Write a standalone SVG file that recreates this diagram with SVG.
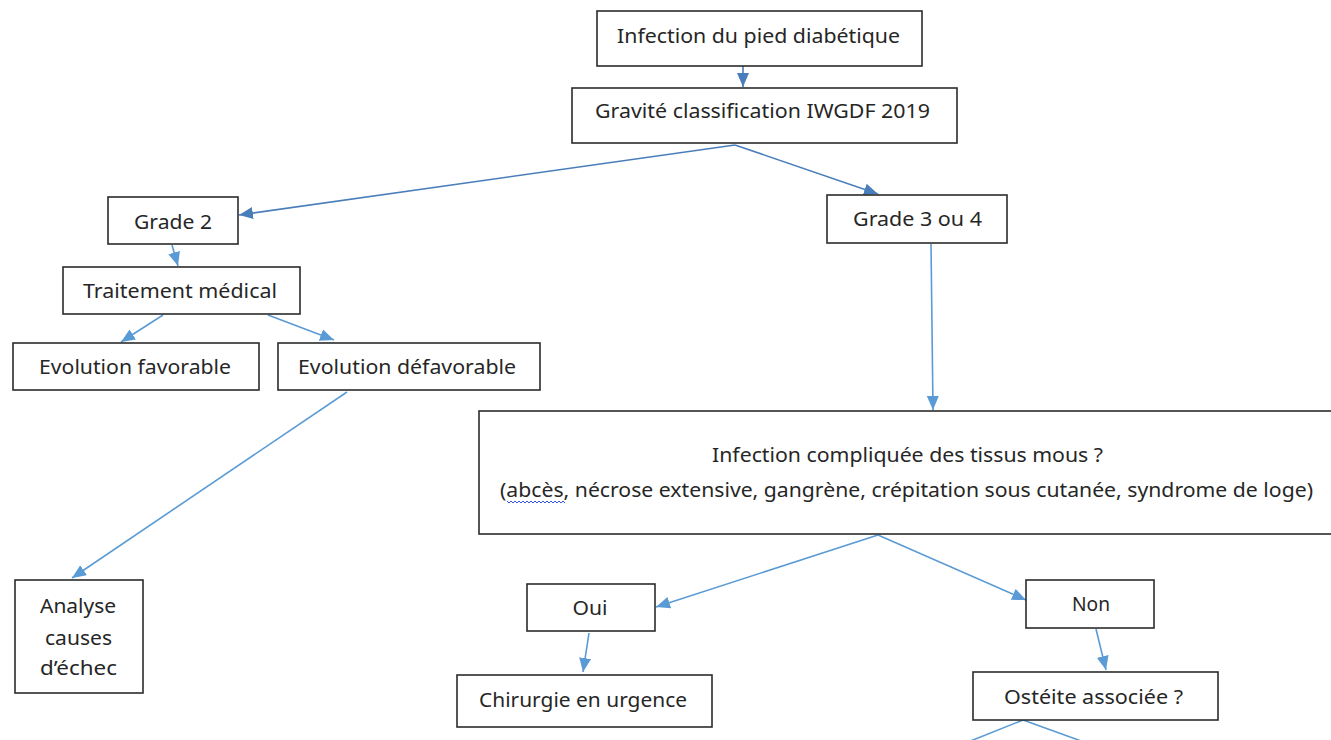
<svg xmlns="http://www.w3.org/2000/svg" width="1331" height="740" viewBox="0 0 1331 740">
<defs>
<style>
.box{fill:#ffffff;stroke:#2b2b2b;stroke-width:1.6}
.t{font-family:"Noto Sans","Open Sans","DejaVu Sans",sans-serif;font-size:20px;fill:#262626;text-anchor:middle}
.c{fill:none;stroke:#5b9bd5;stroke-width:1.6}
.cd{fill:none;stroke:#4a7ebb;stroke-width:1.6}
</style>
<marker id="ah" markerUnits="userSpaceOnUse" markerWidth="14" markerHeight="12" viewBox="0 0 14 12" refX="14" refY="6" orient="auto">
<path d="M0,0 L14,6 L0,12 z" fill="#5b9bd5"/>
</marker>
<marker id="ahd" markerUnits="userSpaceOnUse" markerWidth="14" markerHeight="12" viewBox="0 0 14 12" refX="14" refY="6" orient="auto">
<path d="M0,0 L14,6 L0,12 z" fill="#4a7ebb"/>
</marker>
</defs>
<rect width="1331" height="740" fill="#ffffff"/>

<g id="connectors">
<line class="cd" x1="743" y1="66" x2="743" y2="87" marker-end="url(#ahd)"/>
<line class="cd" x1="735" y1="145" x2="239" y2="215" marker-end="url(#ahd)"/>
<line class="cd" x1="735" y1="145" x2="878" y2="194" marker-end="url(#ahd)"/>
<line class="c" x1="931" y1="244" x2="933" y2="410" marker-end="url(#ah)"/>
<line class="c" x1="172" y1="245" x2="178" y2="266" marker-end="url(#ah)"/>
<line class="c" x1="163" y1="315" x2="121" y2="342" marker-end="url(#ah)"/>
<line class="c" x1="268" y1="315" x2="334" y2="340" marker-end="url(#ah)"/>
<line class="c" x1="347" y1="392" x2="72" y2="578" marker-end="url(#ah)"/>
<line class="c" x1="878" y1="535" x2="656" y2="607" marker-end="url(#ah)"/>
<line class="c" x1="878" y1="535" x2="1026" y2="600" marker-end="url(#ah)"/>
<line class="c" x1="589" y1="633" x2="583" y2="672" marker-end="url(#ah)"/>
<line class="c" x1="1096" y1="629" x2="1106" y2="670" marker-end="url(#ah)"/>
<line class="c" x1="1023" y1="720" x2="968" y2="742"/>
<line class="c" x1="1023" y1="720" x2="1084" y2="742"/>
</g>

<g id="n-infection">
<rect class="box" x="597" y="11" width="325" height="55"/>
<text class="t" x="758.5" y="43" textLength="283" lengthAdjust="spacingAndGlyphs">Infection du pied diabétique</text>
</g>
<g id="n-gravite">
<rect class="box" x="572" y="88" width="385" height="55"/>
<text class="t" x="762.5" y="118" textLength="335" lengthAdjust="spacingAndGlyphs">Gravité classification IWGDF 2019</text>
</g>
<g id="n-grade2">
<rect class="box" x="108" y="197" width="130" height="47"/>
<text class="t" x="173" y="229" textLength="78" lengthAdjust="spacingAndGlyphs">Grade 2</text>
</g>
<g id="n-grade34">
<rect class="box" x="827" y="195" width="180" height="48"/>
<text class="t" x="917.5" y="226" textLength="129" lengthAdjust="spacingAndGlyphs">Grade 3 ou 4</text>
</g>
<g id="n-traitement">
<rect class="box" x="63" y="267" width="237" height="47"/>
<text class="t" x="180" y="298" textLength="194" lengthAdjust="spacingAndGlyphs">Traitement médical</text>
</g>
<g id="n-favorable">
<rect class="box" x="13" y="343" width="246" height="47"/>
<text class="t" x="135" y="374" textLength="192" lengthAdjust="spacingAndGlyphs">Evolution favorable</text>
</g>
<g id="n-defavorable">
<rect class="box" x="278" y="343" width="262" height="47"/>
<text class="t" x="407" y="374" textLength="218" lengthAdjust="spacingAndGlyphs">Evolution défavorable</text>
</g>
<g id="n-tissus">
<rect class="box" x="479" y="411" width="870" height="123"/>
<text class="t" x="907.5" y="462" textLength="391" lengthAdjust="spacingAndGlyphs">Infection compliquée des tissus mous ?</text>
<text class="t" x="906.5" y="497" textLength="813" lengthAdjust="spacingAndGlyphs">(abcès, nécrose extensive, gangrène, crépitation sous cutanée, syndrome de loge)</text>
<path d="M507,501 l2,2 l2,-2 l2,2 l2,-2 l2,2 l2,-2 l2,2 l2,-2 l2,2 l2,-2 l2,2 l2,-2 l2,2 l2,-2 l2,2 l2,-2 l2,2 l2,-2 l2,2 l2,-2 l2,2 l2,-2 l2,2 l2,-2 l2,2 l2,-2 l2,2 l2,-2 l2,2" fill="none" stroke="#3355dd" stroke-width="1"/>
</g>
<g id="n-analyse">
<rect class="box" x="15" y="580" width="128" height="113"/>
<text class="t" x="78" y="613" textLength="76" lengthAdjust="spacingAndGlyphs">Analyse</text>
<text class="t" x="78.5" y="645" textLength="67" lengthAdjust="spacingAndGlyphs">causes</text>
<text class="t" x="78.5" y="675" textLength="77" lengthAdjust="spacingAndGlyphs">d’échec</text>
</g>
<g id="n-oui">
<rect class="box" x="527" y="584" width="128" height="47"/>
<text class="t" x="590" y="615" textLength="35" lengthAdjust="spacingAndGlyphs">Oui</text>
</g>
<g id="n-non">
<rect class="box" x="1026" y="580" width="128" height="48"/>
<text class="t" x="1091" y="611" textLength="38" lengthAdjust="spacingAndGlyphs">Non</text>
</g>
<g id="n-chirurgie">
<rect class="box" x="457" y="675" width="255" height="52"/>
<text class="t" x="583" y="707" textLength="208" lengthAdjust="spacingAndGlyphs">Chirurgie en urgence</text>
</g>
<g id="n-osteite">
<rect class="box" x="973" y="672" width="245" height="48"/>
<text class="t" x="1093.5" y="704" textLength="179" lengthAdjust="spacingAndGlyphs">Ostéite associée ?</text>
</g>
</svg>
